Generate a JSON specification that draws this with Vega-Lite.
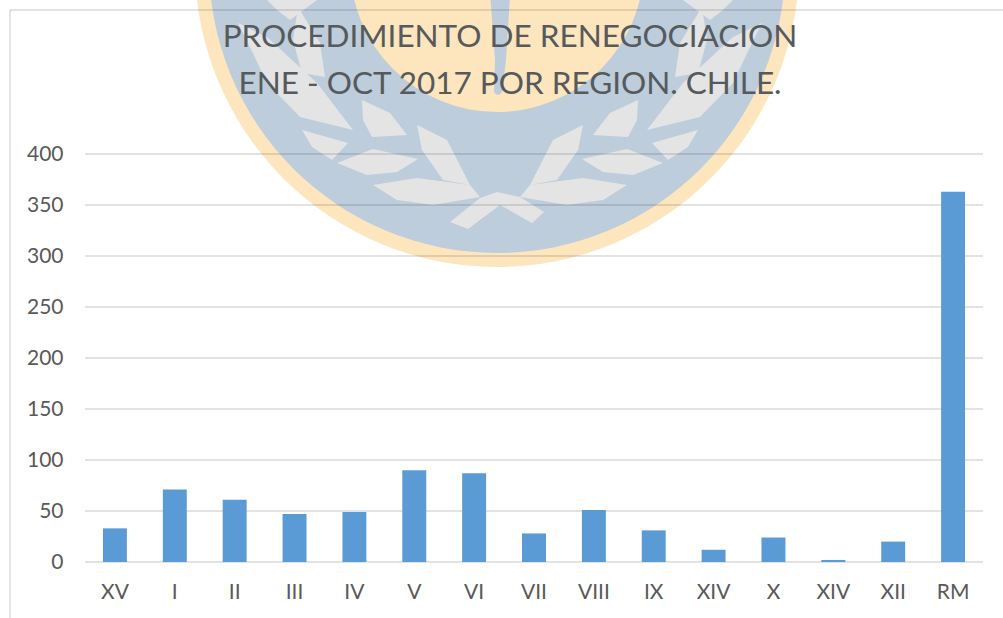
{
"$schema":"https://vega.github.io/schema/vega-lite/v6.json",
"width":898,"height":408,
"autosize":{"type":"none"},
"padding":{"left":85,"top":154,"right":20,"bottom":56},
"background":"#ffffff",
"view":{"stroke":null},
"title":{"text":["PROCEDIMIENTO DE RENEGOCIACION","ENE - OCT 2017 POR REGION. CHILE."],"font":"Lato","fontSize":31.5,"fontWeight":"normal","color":"#565a5c","anchor":"middle","dx":-24,"offset":-438,"lineHeight":47},
"datasets":{
"regiones":[
{"region":"XV","casos":33},{"region":"I","casos":71},{"region":"II","casos":61},{"region":"III","casos":47},{"region":"IV","casos":49},{"region":"V","casos":90},{"region":"VI","casos":87},{"region":"VII","casos":28},{"region":"VIII","casos":51},{"region":"IX","casos":31},{"region":"XIV","casos":12},{"region":"X","casos":24},{"region":"XIV ","casos":2},{"region":"XII","casos":20},{"region":"RM","casos":363}],
"sello":[{"u":6.882,"v":585.3}],
"grilla":[{"t":0},{"t":50},{"t":100},{"t":150},{"t":200},{"t":250},{"t":300},{"t":350},{"t":400}],
"marcoH":[{"u":-1.2527,"u2":15.6,"v":541.2}],
"marcoV":[{"u":-1.2527,"v":541.2,"v2":-60}]
},
"layer":[
{"data":{"name":"sello"},"mark":{"type":"point","filled":true,"shape":"circle","size":364816,"color":"#fde5bd","opacity":1,"strokeWidth":0},
 "encoding":{"x":{"field":"u","type":"quantitative","scale":{"domain":[0,15],"nice":false,"zero":false},"axis":null},"y":{"field":"v","type":"quantitative","scale":{"domain":[0,400],"nice":false},"axis":{"values":[0,50,100,150,200,250,300,350,400],"title":null,"grid":false,"domain":false,"ticks":false,"labelFont":"Lato","labelFontSize":21,"labelColor":"#595959","labelPadding":22}}}},
{"data":{"name":"sello"},"mark":{"type":"point","filled":true,"shape":"circle","size":331776,"color":"#bdcddc","opacity":1,"strokeWidth":0},
 "encoding":{"x":{"field":"u","type":"quantitative","scale":{"domain":[0,15],"nice":false,"zero":false},"axis":null},"y":{"field":"v","type":"quantitative"}}},
{"data":{"name":"sello"},"mark":{"type":"point","filled":true,"shape":"circle","size":86436,"color":"#fde5bd","opacity":1,"strokeWidth":0},
 "encoding":{"x":{"field":"u","type":"quantitative","scale":{"domain":[0,15],"nice":false,"zero":false},"axis":null},"y":{"field":"v","type":"quantitative"}}},
{"data":{"name":"sello"},"mark":{"type":"point","filled":true,"size":4,"color":"#bdcddc","opacity":1,"strokeWidth":0,
 "shape":"M-9,0L15,0L9,95L5,127Q1,133 -3,127L-2,95Z"},
 "encoding":{"x":{"field":"u","type":"quantitative","scale":{"domain":[0,15],"nice":false,"zero":false},"axis":null},"y":{"field":"v","type":"quantitative"}}},
{"data":{"name":"sello"},"mark":{"type":"point","filled":true,"size":4,"color":"#e4e4e4","opacity":1,"strokeWidth":0,
 "shape":"M-195,165L-149,178L-165,195L-185,182ZM201,165L155,178L171,195L191,182ZM-160,198L-124,184L-79,194L-100,207L-130,210ZM166,198L130,184L85,194L106,207L136,210ZM-80,160L-50,175L-27,220L-54,215L-75,185ZM86,160L56,175L33,220L60,215L81,185ZM-124,220L-80,213L-27,220L-17,232L-64,240L-100,235ZM130,220L86,213L33,220L23,232L70,240L106,235ZM-135,135L-107,148L-90,170L-125,172L-134,155ZM141,135L113,148L96,170L131,172L140,155ZM-259,58L-230,72L-180,118L-144,165L-197,152L-230,118L-249,78ZM265,58L236,72L186,118L150,165L203,152L236,118L255,78ZM-199,42L-177,78L-172,112L-195,108L-204,75ZM205,42L183,78L178,112L201,108L210,75ZM-230,35L-180,35L-207,55L-220,45ZM236,35L186,35L213,55L226,45ZM-47,257L-17,233L0,227L23,232L47,247L35,258L3,240L-29,264Z"},
 "encoding":{"x":{"field":"u","type":"quantitative","scale":{"domain":[0,15],"nice":false,"zero":false},"axis":null},"y":{"field":"v","type":"quantitative"}}},
{"data":{"name":"marcoH"},"mark":{"type":"rule","stroke":"#000000","strokeOpacity":0.14,"strokeWidth":1.5},
 "encoding":{"x":{"field":"u","type":"quantitative","scale":{"domain":[0,15],"nice":false,"zero":false},"axis":null},"x2":{"field":"u2"},"y":{"field":"v","type":"quantitative"}}},
{"data":{"name":"marcoV"},"mark":{"type":"rule","stroke":"#000000","strokeOpacity":0.14,"strokeWidth":1.5},
 "encoding":{"x":{"field":"u","type":"quantitative","scale":{"domain":[0,15],"nice":false,"zero":false},"axis":null},"y":{"field":"v","type":"quantitative"},"y2":{"field":"v2"}}},
{"data":{"name":"grilla"},"mark":{"type":"rule","stroke":"#000000","strokeOpacity":0.15,"strokeWidth":1.4},
 "encoding":{"y":{"field":"t","type":"quantitative"}}},
{"data":{"name":"regiones"},"mark":{"type":"bar","color":"#5b9bd5"},
 "encoding":{"x":{"field":"region","type":"nominal","sort":null,"scale":{"paddingInner":0.6,"paddingOuter":0.3},"axis":{"title":null,"orient":"bottom","labelAngle":0,"domain":false,"ticks":false,"grid":false,"labelFont":"Lato","labelFontSize":21,"labelColor":"#595959","labelPadding":19}},
 "y":{"field":"casos","type":"quantitative"}}}
],
"resolve":{"scale":{"x":"independent"}}
}
